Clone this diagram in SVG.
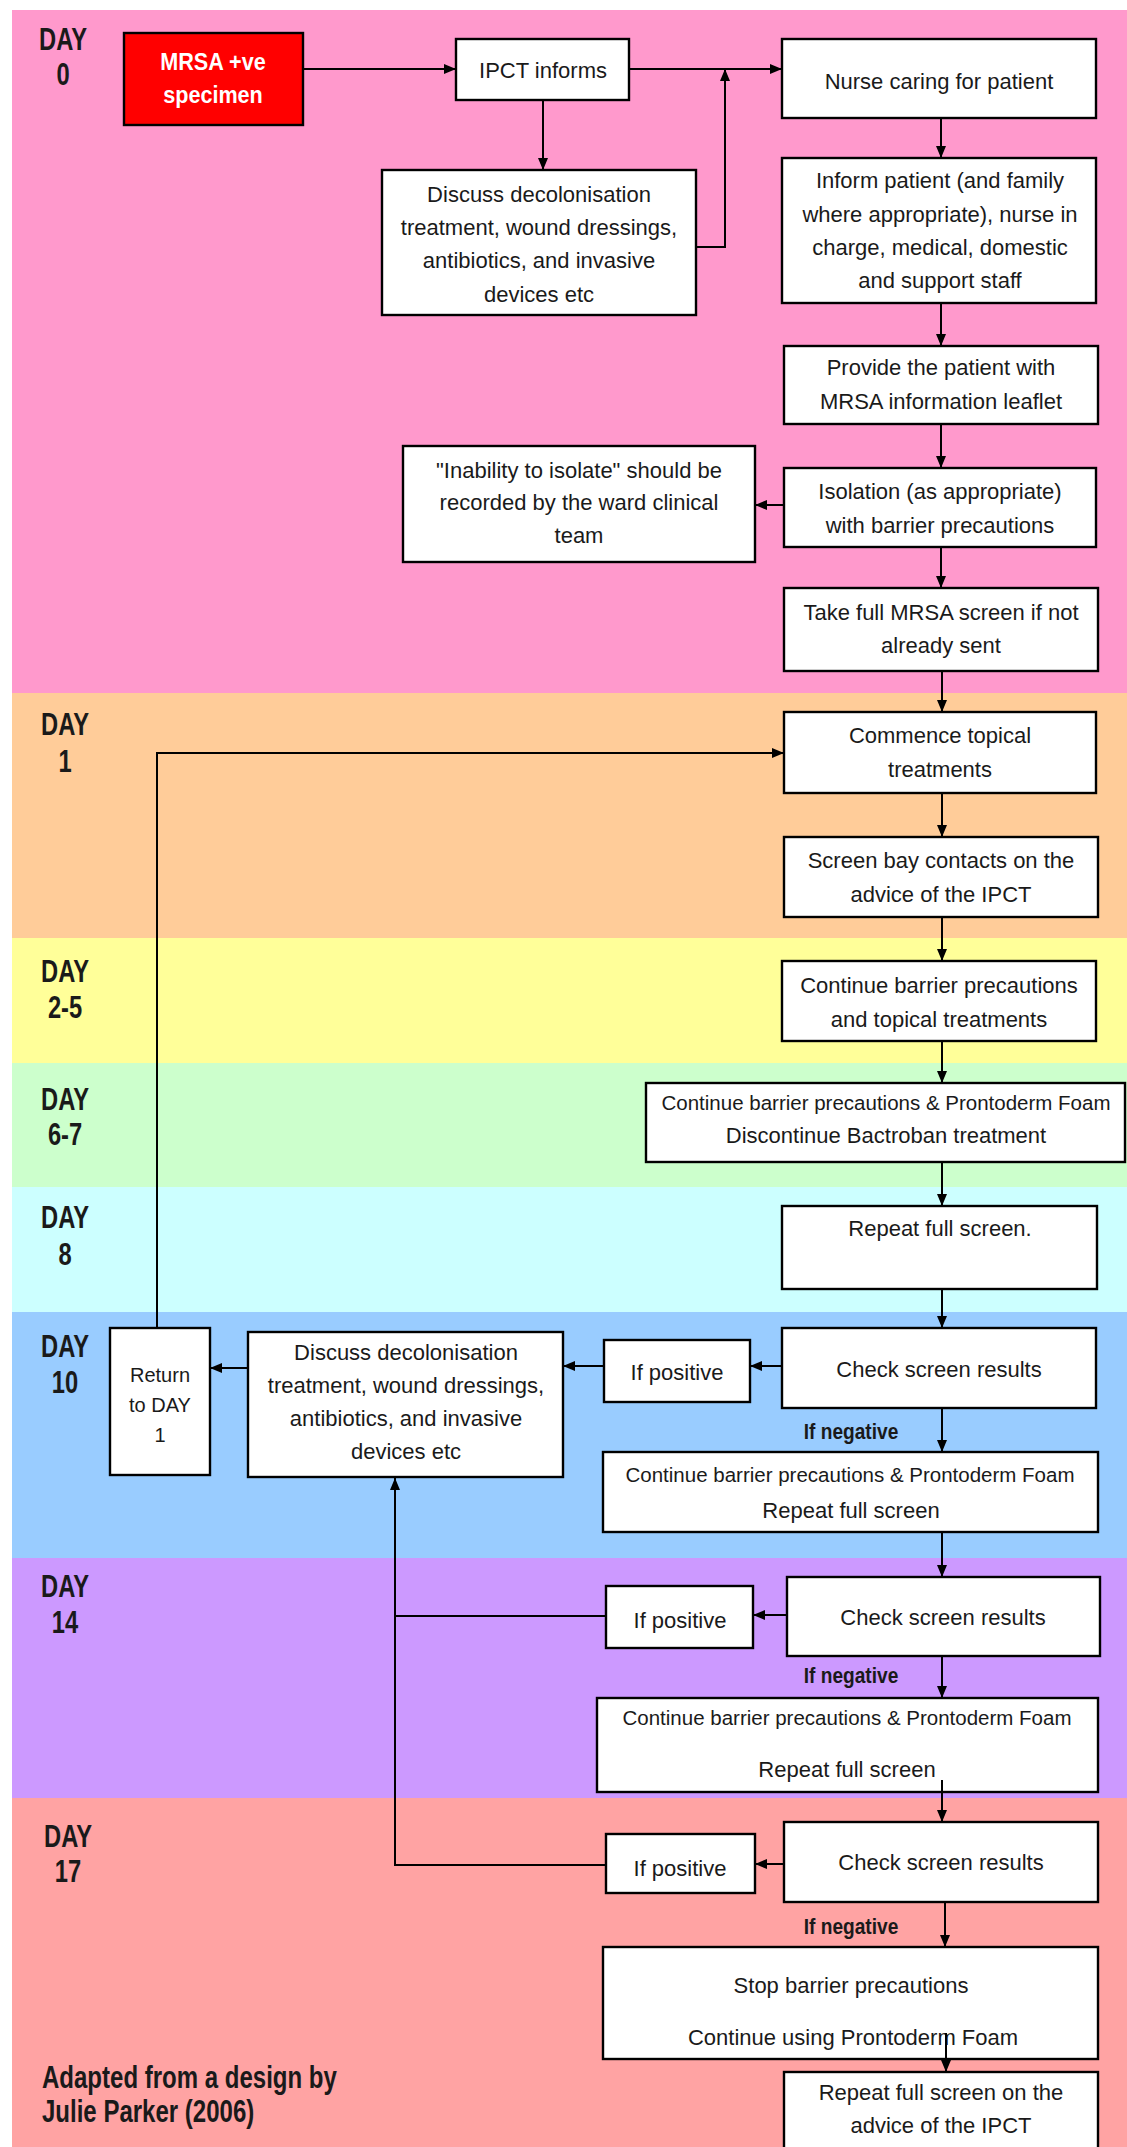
<svg xmlns="http://www.w3.org/2000/svg" width="1127" height="2147" viewBox="0 0 1127 2147">
<style>
.box{fill:#fff;stroke:#000;stroke-width:2.4}
.t{font-family:"Liberation Sans",Arial,sans-serif;font-size:22px;fill:#1a1a1a;text-anchor:middle}
.long{font-size:20.5px}
.day{font-family:"Liberation Sans",Arial,sans-serif;font-size:31px;font-weight:bold;fill:#1a1a1a;text-anchor:middle}
.bw{font-family:"Liberation Sans",Arial,sans-serif;font-size:24px;font-weight:bold;fill:#fff;text-anchor:middle}
.neg{font-family:"Liberation Sans",Arial,sans-serif;font-size:22px;font-weight:bold;fill:#1a1a1a;text-anchor:middle}
.foot{font-family:"Liberation Sans",Arial,sans-serif;font-size:31px;font-weight:bold;fill:#1a1a1a}
.conn{stroke:#000;stroke-width:2;fill:none}
</style>
<defs>
<marker id="ah" markerWidth="12" markerHeight="10" refX="12" refY="5" orient="auto" markerUnits="userSpaceOnUse"><path d="M0,0 L12,5 L0,10 z" fill="#000"/></marker>
</defs>
<rect width="1127" height="2147" fill="#fff"/>
<g id="bands">
<rect x="12" y="10" width="1115" height="683" fill="#FF99CC"/>
<rect x="12" y="693" width="1115" height="245" fill="#FFCC99"/>
<rect x="12" y="938" width="1115" height="125" fill="#FFFF99"/>
<rect x="12" y="1063" width="1115" height="124" fill="#CCFFCC"/>
<rect x="12" y="1187" width="1115" height="125" fill="#CCFFFF"/>
<rect x="12" y="1312" width="1115" height="246" fill="#99CCFF"/>
<rect x="12" y="1558" width="1115" height="240" fill="#CC99FF"/>
<rect x="12" y="1798" width="1115" height="349" fill="#FFA3A3"/>
</g>
<g id="day-labels">
<text class="day" transform="translate(63 50) scale(0.765 1)">DAY</text>
<text class="day" transform="translate(63 85) scale(0.765 1)">0</text>
<text class="day" transform="translate(65 735) scale(0.765 1)">DAY</text>
<text class="day" transform="translate(65 772) scale(0.765 1)">1</text>
<text class="day" transform="translate(65 982) scale(0.765 1)">DAY</text>
<text class="day" transform="translate(65 1018) scale(0.765 1)">2-5</text>
<text class="day" transform="translate(65 1110) scale(0.765 1)">DAY</text>
<text class="day" transform="translate(65 1145) scale(0.765 1)">6-7</text>
<text class="day" transform="translate(65 1228) scale(0.765 1)">DAY</text>
<text class="day" transform="translate(65 1265) scale(0.765 1)">8</text>
<text class="day" transform="translate(65 1357) scale(0.765 1)">DAY</text>
<text class="day" transform="translate(65 1393) scale(0.765 1)">10</text>
<text class="day" transform="translate(65 1597) scale(0.765 1)">DAY</text>
<text class="day" transform="translate(65 1633) scale(0.765 1)">14</text>
<text class="day" transform="translate(68 1847) scale(0.765 1)">DAY</text>
<text class="day" transform="translate(68 1882) scale(0.765 1)">17</text>
</g>
<g id="connectors">
<path class="conn" d="M303,69 H456" marker-end="url(#ah)"/>
<path class="conn" d="M629,69 H782" marker-end="url(#ah)"/>
<path class="conn" d="M543,100 V170" marker-end="url(#ah)"/>
<path class="conn" d="M696,247 H725 V69" marker-end="url(#ah)"/>
<path class="conn" d="M941,118 V158" marker-end="url(#ah)"/>
<path class="conn" d="M941,303 V346" marker-end="url(#ah)"/>
<path class="conn" d="M941,424 V468" marker-end="url(#ah)"/>
<path class="conn" d="M784,505 H755" marker-end="url(#ah)"/>
<path class="conn" d="M941,547 V588" marker-end="url(#ah)"/>
<path class="conn" d="M942,671 V712" marker-end="url(#ah)"/>
<path class="conn" d="M942,793 V837" marker-end="url(#ah)"/>
<path class="conn" d="M942,917 V961" marker-end="url(#ah)"/>
<path class="conn" d="M942,1041 V1083" marker-end="url(#ah)"/>
<path class="conn" d="M942,1162 V1206" marker-end="url(#ah)"/>
<path class="conn" d="M942,1289 V1328" marker-end="url(#ah)"/>
<path class="conn" d="M782,1366 H750" marker-end="url(#ah)"/>
<path class="conn" d="M604,1366 H563" marker-end="url(#ah)"/>
<path class="conn" d="M248,1368 H210" marker-end="url(#ah)"/>
<path class="conn" d="M157,1328 V753 H784" marker-end="url(#ah)"/>
<path class="conn" d="M942,1408 V1452" marker-end="url(#ah)"/>
<path class="conn" d="M942,1532 V1577" marker-end="url(#ah)"/>
<path class="conn" d="M787,1615 H753" marker-end="url(#ah)"/>
<path class="conn" d="M606,1616 H395"/>
<path class="conn" d="M606,1865 H395 V1478" marker-end="url(#ah)"/>
<path class="conn" d="M942,1656 V1698" marker-end="url(#ah)"/>
<path class="conn" d="M784,1864 H755" marker-end="url(#ah)"/>
<path class="conn" d="M945,1902 V1947" marker-end="url(#ah)"/>
</g>
<g id="mrsa"><rect x="124" y="33" width="179" height="92" fill="#FF0000" stroke="#000" stroke-width="2.4"/>
<text class="bw" transform="translate(213 70) scale(0.9 1)">MRSA +ve</text>
<text class="bw" transform="translate(213 103) scale(0.9 1)">specimen</text></g>
<g id="ipct"><rect class="box" x="456" y="39" width="173" height="61"/><text class="t" x="543" y="78">IPCT informs</text></g>
<g id="nurse"><rect class="box" x="782" y="39" width="314" height="79"/><text class="t" x="939" y="89">Nurse caring for patient</text></g>
<g id="discuss1"><rect class="box" x="382" y="170" width="314" height="145"/>
<text class="t"><tspan x="539" y="202">Discuss decolonisation</tspan><tspan x="539" y="235">treatment, wound dressings,</tspan><tspan x="539" y="268">antibiotics, and invasive</tspan><tspan x="539" y="302">devices etc</tspan></text></g>
<g id="inform"><rect class="box" x="782" y="158" width="314" height="145"/>
<text class="t"><tspan x="940" y="188">Inform patient (and family</tspan><tspan x="940" y="222">where appropriate), nurse in</tspan><tspan x="940" y="255">charge, medical, domestic</tspan><tspan x="940" y="288">and support staff</tspan></text></g>
<g id="provide"><rect class="box" x="784" y="346" width="314" height="78"/>
<text class="t"><tspan x="941" y="375">Provide the patient with</tspan><tspan x="941" y="409">MRSA information leaflet</tspan></text></g>
<g id="inability"><rect class="box" x="403" y="446" width="352" height="116"/>
<text class="t"><tspan x="579" y="478">"Inability to isolate" should be</tspan><tspan x="579" y="510">recorded by the ward clinical</tspan><tspan x="579" y="543">team</tspan></text></g>
<g id="isolation"><rect class="box" x="784" y="468" width="312" height="79"/>
<text class="t"><tspan x="940" y="499">Isolation (as appropriate)</tspan><tspan x="940" y="533">with barrier precautions</tspan></text></g>
<g id="takefull"><rect class="box" x="784" y="588" width="314" height="83"/>
<text class="t"><tspan x="941" y="620">Take full MRSA screen if not</tspan><tspan x="941" y="653">already sent</tspan></text></g>
<g id="commence"><rect class="box" x="784" y="712" width="312" height="81"/>
<text class="t"><tspan x="940" y="743">Commence topical</tspan><tspan x="940" y="777">treatments</tspan></text></g>
<g id="screenbay"><rect class="box" x="784" y="837" width="314" height="80"/>
<text class="t"><tspan x="941" y="868">Screen bay contacts on the</tspan><tspan x="941" y="902">advice of the IPCT</tspan></text></g>
<g id="cont25"><rect class="box" x="782" y="961" width="314" height="80"/>
<text class="t"><tspan x="939" y="993">Continue barrier precautions</tspan><tspan x="939" y="1027">and topical treatments</tspan></text></g>
<g id="cont67"><rect class="box" x="646" y="1083" width="479" height="79"/>
<text class="t long" x="886" y="1110">Continue barrier precautions &amp; Prontoderm Foam</text>
<text class="t" x="886" y="1143">Discontinue Bactroban treatment</text></g>
<g id="repeat8"><rect class="box" x="782" y="1206" width="315" height="83"/><text class="t" x="940" y="1236">Repeat full screen.</text></g>
<g id="check1"><rect class="box" x="782" y="1328" width="314" height="80"/><text class="t" x="939" y="1377">Check screen results</text></g>
<g id="ifpos1"><rect class="box" x="604" y="1340" width="146" height="62"/><text class="t" x="677" y="1380">If positive</text></g>
<g id="discuss2"><rect class="box" x="248" y="1332" width="315" height="145"/>
<text class="t"><tspan x="406" y="1360">Discuss decolonisation</tspan><tspan x="406" y="1393">treatment, wound dressings,</tspan><tspan x="406" y="1426">antibiotics, and invasive</tspan><tspan x="406" y="1459">devices etc</tspan></text></g>
<g id="return"><rect class="box" x="110" y="1328" width="100" height="147"/>
<text class="t" style="font-size:20px"><tspan x="160" y="1382">Return</tspan><tspan x="160" y="1412">to DAY</tspan><tspan x="160" y="1442">1</tspan></text></g>
<g id="ifneg1"><text class="neg" transform="translate(851 1439) scale(0.87 1)">If negative</text></g>
<g id="cont10"><rect class="box" x="603" y="1452" width="495" height="80"/>
<text class="t long" x="850" y="1482">Continue barrier precautions &amp; Prontoderm Foam</text>
<text class="t" x="851" y="1518">Repeat full screen</text></g>
<g id="check2"><rect class="box" x="787" y="1577" width="313" height="79"/><text class="t" x="943" y="1625">Check screen results</text></g>
<g id="ifpos2"><rect class="box" x="606" y="1586" width="147" height="62"/><text class="t" x="680" y="1628">If positive</text></g>
<g id="ifneg2"><text class="neg" transform="translate(851 1683) scale(0.87 1)">If negative</text></g>
<g id="cont14"><rect class="box" x="597" y="1698" width="501" height="94"/>
<text class="t long" x="847" y="1725">Continue barrier precautions &amp; Prontoderm Foam</text>
<text class="t" x="847" y="1777">Repeat full screen</text></g>
<g id="check3"><rect class="box" x="784" y="1822" width="314" height="80"/><text class="t" x="941" y="1870">Check screen results</text></g>
<g id="ifpos3"><rect class="box" x="606" y="1834" width="149" height="59"/><text class="t" x="680" y="1876">If positive</text></g>
<g id="ifneg3"><text class="neg" transform="translate(851 1934) scale(0.87 1)">If negative</text></g>
<g id="stop"><rect class="box" x="603" y="1947" width="495" height="112"/>
<text class="t"><tspan x="851" y="1993">Stop barrier precautions</tspan><tspan x="853" y="2045">Continue using Prontoderm Foam</tspan></text></g>
<g id="repeat17"><rect class="box" x="784" y="2072" width="314" height="95"/>
<text class="t"><tspan x="941" y="2100">Repeat full screen on the</tspan><tspan x="941" y="2133">advice of the IPCT</tspan></text></g>
<g id="connectors-over">
<path class="conn" d="M942,1780 V1822" marker-end="url(#ah)"/>
<path class="conn" d="M946,2033 V2072" marker-end="url(#ah)"/>
</g>
<g id="footnote">
<text class="foot" transform="translate(42 2088) scale(0.775 1)">Adapted from a design by</text>
<text class="foot" transform="translate(42 2122) scale(0.775 1)">Julie Parker (2006)</text>
</g>
</svg>
